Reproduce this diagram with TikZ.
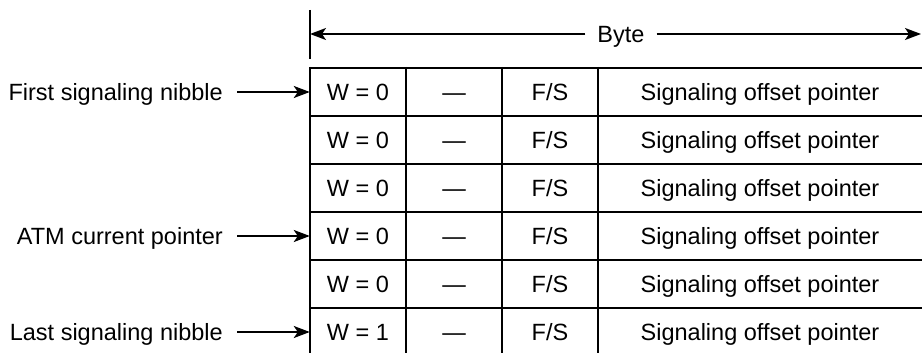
\documentclass[tikz,border=0pt]{standalone}
\usepackage{fontspec}
\setmainfont{Liberation Sans}
\usetikzlibrary{arrows.meta}
\begin{document}
\begin{tikzpicture}[x=1pt,y=-1pt,
  every node/.style={font=\fontsize{23.5}{28}\selectfont, text height=17pt, text depth=0pt},
  cell/.style={inner sep=0pt, minimum width=96pt, minimum height=48pt},
  widecell/.style={inner sep=0pt, minimum width=324pt, minimum height=48pt},
  gridline/.style={line width=2.2pt},
  ptr/.style={line width=1.8pt, -{Stealth[length=16pt,width=12pt,inset=4pt]}},
  lbl/.style={anchor=east, inner sep=0pt}]
\useasboundingbox (0,0) rectangle (922,353);
% table grid
\foreach \yy in {68,116,164,212,260,308} \draw[gridline] (309,\yy) -- (922,\yy);
\foreach \xx in {310,406,502,598} \draw[gridline] (\xx,67) -- (\xx,353);
% cells
\foreach \i/\yy/\w in {1/92/0,2/140/0,3/188/0,4/236/0,5/284/0,6/332/1} {
  \node[cell] (w\i) at (358,\yy) {W = \w};
  \node[cell] (d\i) at (454,\yy) {---};
  \node[cell] (f\i) at (550,\yy) {F/S};
  \node[widecell] (s\i) at (760,\yy) {Signaling offset pointer};
}
% byte dimension
\draw[gridline] (310,10) -- (310,59);
\node[inner xsep=12pt, inner ysep=0pt] (byte) at (621,34) {Byte};
\coordinate (bl) at (310,34);
\coordinate (br) at (921,34);
\draw[ptr] (byte.west) -- (bl);
\draw[ptr] (byte.east) -- (br);
% pointer labels
\node[lbl] (first) at (223,92) {First signaling nibble};
\node[lbl] (atm) at (223,236) {ATM current pointer};
\node[lbl] (last) at (223,332) {Last signaling nibble};
\draw[ptr, shorten <=14pt] (first.east) -- (w1.west);
\draw[ptr, shorten <=14pt] (atm.east) -- (w4.west);
\draw[ptr, shorten <=14pt] (last.east) -- (w6.west);
\end{tikzpicture}
\end{document}
